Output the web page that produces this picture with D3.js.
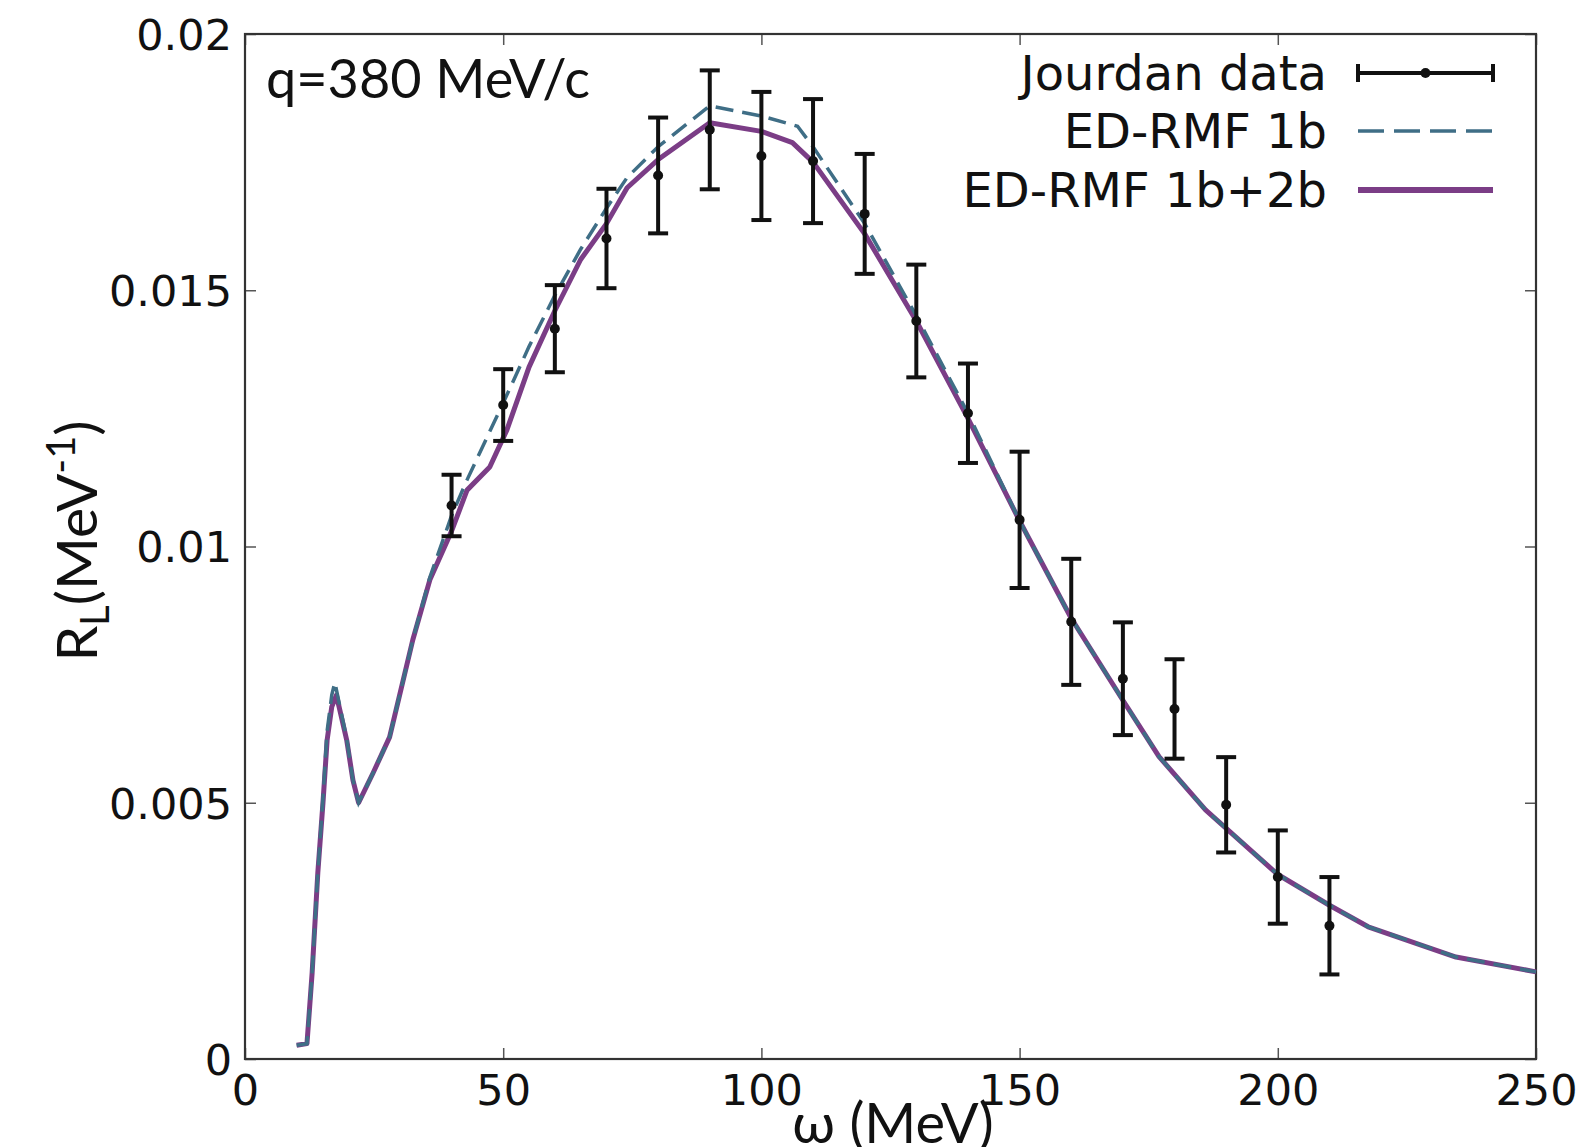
<!DOCTYPE html>
<html>
<head>
<meta charset="utf-8">
<script src="https://cdn.jsdelivr.net/npm/d3@7"></script>
<style>
  body { margin: 0; background: #fff; }
  svg { display: block; }
</style>
</head>
<body>
<svg id="chart" width="1595" height="1147"></svg>
<script>
// Jourdan data (omega in MeV, R_L in MeV^-1, error)
const dataOmega = [40, 50, 60, 70, 80, 90, 100, 110, 120, 130, 140, 150, 160, 170, 180, 190, 200, 210];
const dataRL = [0.0108, 0.01276, 0.01425, 0.01601, 0.01724, 0.01813, 0.01762, 0.01752, 0.01649, 0.0144, 0.0126, 0.01052, 0.00853, 0.00742, 0.00683, 0.00496, 0.00355, 0.0026];
const dataErr = [0.0006, 0.0007, 0.00085, 0.00097, 0.00113, 0.00116, 0.00125, 0.00121, 0.00117, 0.0011, 0.00097, 0.00133, 0.00123, 0.0011, 0.00097, 0.00093, 0.00091, 0.00095];

// ED-RMF 1b+2b
const omega2b = [10, 12, 13, 14.1, 15.1, 15.9, 16.8, 17.7, 19.7, 20.9, 22, 24.8, 28, 32.5, 35.8, 40, 43, 47.4, 50.7, 55, 60, 65, 70, 74, 80, 90, 100, 106, 110, 120, 130, 140, 150, 160, 170, 177, 186, 190, 200, 210, 217.5, 234.5, 250];
const rl2b = [0.00027, 0.0003, 0.00168, 0.00363, 0.005, 0.00622, 0.00687, 0.0071, 0.00622, 0.00544, 0.005, 0.00558, 0.00628, 0.00818, 0.00935, 0.0103, 0.0111, 0.01155, 0.01227, 0.0135, 0.0146, 0.0156, 0.0163, 0.0170, 0.01755, 0.01827, 0.0181, 0.01788, 0.0175, 0.0161, 0.0144, 0.0125, 0.0105, 0.0086, 0.0070, 0.0059, 0.00486, 0.0045, 0.0036, 0.003, 0.00258, 0.00199, 0.0017];

// ED-RMF 1b
const omega1b = [10, 12, 13, 14.1, 15.1, 15.9, 16.8, 17.4, 19.7, 20.9, 22, 24.8, 28, 32.5, 35.8, 40, 43, 50, 55, 60, 65, 70, 74, 80, 90, 100, 107, 110, 120, 130, 140, 150, 160, 170, 177, 186, 190, 200, 210, 217.5, 234.5, 250];
const rl1b = [0.00027, 0.0003, 0.00168, 0.00363, 0.0051, 0.0064, 0.0071, 0.00735, 0.00625, 0.00544, 0.005, 0.00558, 0.00628, 0.00818, 0.0094, 0.0106, 0.0113, 0.0128, 0.0139, 0.0149, 0.0158, 0.0166, 0.0172, 0.0178, 0.0186, 0.0184, 0.0182, 0.0178, 0.0163, 0.0145, 0.0126, 0.0105, 0.0086, 0.0070, 0.0059, 0.00486, 0.0045, 0.0036, 0.003, 0.00258, 0.00199, 0.0017];

const xTicks = [0, 50, 100, 150, 200, 250];
const yTicks = [0, 0.005, 0.01, 0.015, 0.02];
const yTickLabels = ["0", "0.005", "0.01", "0.015", "0.02"];

const legendNames = ["Jourdan data", "ED-RMF 1b", "ED-RMF 1b+2b"];

const purple = "#7b3d86";
const teal = "#3f6e86";

const margin = { top: 34, right: 59, bottom: 88, left: 245 };
const svg = d3.select("#chart");
const width = +svg.attr("width") - margin.left - margin.right;
const height = +svg.attr("height") - margin.top - margin.bottom;

const x = d3.scaleLinear().domain([0, 250]).range([0, width]);
const y = d3.scaleLinear().domain([0, 0.02]).range([height, 0]);

const g = svg.append("g").attr("transform", `translate(${margin.left},${margin.top})`);

const tickFont = "'DejaVu Sans', sans-serif";

// axes with inward ticks on all four sides
const xAxis = g.append("g")
  .attr("transform", `translate(0,${height})`)
  .call(d3.axisBottom(x).tickValues(xTicks).tickSizeInner(-11).tickSizeOuter(0).tickPadding(15));
const xTop = g.append("g")
  .call(d3.axisTop(x).tickValues(xTicks).tickSizeInner(-11).tickSizeOuter(0).tickFormat(""));
const yAxis = g.append("g")
  .call(d3.axisLeft(y).tickValues(yTicks).tickSizeInner(-11).tickSizeOuter(0).tickPadding(13)
    .tickFormat((d, i) => yTickLabels[i]));
const yRight = g.append("g")
  .attr("transform", `translate(${width},0)`)
  .call(d3.axisRight(y).tickValues(yTicks).tickSizeInner(-11).tickSizeOuter(0).tickFormat(""));

[xAxis, xTop, yAxis, yRight].forEach(a => {
  a.select(".domain").remove();
  a.selectAll(".tick line").attr("stroke", "#555").attr("stroke-width", 1.5);
  a.selectAll("text").attr("fill", "#111").style("font-family", tickFont).style("font-size", "43px");
});
yAxis.selectAll("text").attr("dy", "0.36em");

// frame
g.append("rect")
  .attr("width", width).attr("height", height)
  .attr("fill", "none").attr("stroke", "#333").attr("stroke-width", 2.2);

// curves
const line = d3.line().x(d => x(d[0])).y(d => y(d[1]));

g.append("path")
  .datum(d3.zip(omega2b, rl2b))
  .attr("d", line)
  .attr("fill", "none")
  .attr("stroke", purple)
  .attr("stroke-width", 5)
  .attr("stroke-linejoin", "round");

g.append("path")
  .datum(d3.zip(omega1b, rl1b))
  .attr("d", line)
  .attr("fill", "none")
  .attr("stroke", teal)
  .attr("stroke-width", 3.5)
  .attr("stroke-dasharray", "18,9");

// error bars
const pts = dataOmega.map((w, i) => ({ w, v: dataRL[i], e: dataErr[i] }));
const eb = g.append("g").attr("stroke", "#111").attr("stroke-width", 4);
eb.selectAll(".bar").data(pts).enter().append("line")
  .attr("x1", d => x(d.w)).attr("x2", d => x(d.w))
  .attr("y1", d => y(d.v - d.e)).attr("y2", d => y(d.v + d.e));
eb.selectAll(".capTop").data(pts).enter().append("line")
  .attr("x1", d => x(d.w) - 10).attr("x2", d => x(d.w) + 10)
  .attr("y1", d => y(d.v + d.e)).attr("y2", d => y(d.v + d.e));
eb.selectAll(".capBot").data(pts).enter().append("line")
  .attr("x1", d => x(d.w) - 10).attr("x2", d => x(d.w) + 10)
  .attr("y1", d => y(d.v - d.e)).attr("y2", d => y(d.v - d.e));
g.append("g").selectAll("circle").data(pts).enter().append("circle")
  .attr("cx", d => x(d.w)).attr("cy", d => y(d.v)).attr("r", 5).attr("fill", "#111");

// legend
const legX0 = 1358 - margin.left, legX1 = 1493 - margin.left;
const legY = [73, 131, 190].map(v => v - margin.top);
const leg = g.append("g");
legendNames.forEach((name, i) => {
  leg.append("text")
    .attr("x", legX0 - 31).attr("y", legY[i])
    .attr("dy", "0.36em")
    .attr("text-anchor", "end")
    .style("font-family", tickFont).style("font-size", "48px").attr("fill", "#111")
    .text(name);
});
leg.append("line").attr("x1", legX0).attr("x2", legX1).attr("y1", legY[0]).attr("y2", legY[0])
  .attr("stroke", "#111").attr("stroke-width", 4);
[legX0, legX1].forEach(cx => leg.append("line")
  .attr("x1", cx).attr("x2", cx).attr("y1", legY[0] - 9).attr("y2", legY[0] + 9)
  .attr("stroke", "#111").attr("stroke-width", 4));
leg.append("circle").attr("cx", (legX0 + legX1) / 2).attr("cy", legY[0]).attr("r", 5).attr("fill", "#111");
leg.append("line").attr("x1", legX0).attr("x2", legX1).attr("y1", legY[1]).attr("y2", legY[1])
  .attr("stroke", teal).attr("stroke-width", 3.5).attr("stroke-dasharray", "26,10");
leg.append("line").attr("x1", legX0).attr("x2", legX1).attr("y1", legY[2]).attr("y2", legY[2])
  .attr("stroke", purple).attr("stroke-width", 6);

// annotation and axis titles
const labelFont = "Lato, 'Open Sans', sans-serif";
svg.append("text")
  .attr("x", 266).attr("y", 98)
  .style("font-family", labelFont).style("font-size", "54px").attr("fill", "#111")
  .text("q=380 MeV/c");

svg.append("text")
  .attr("x", 893).attr("y", 1143)
  .attr("text-anchor", "middle")
  .style("font-family", labelFont).style("font-size", "56px").attr("fill", "#111")
  .text("ω (MeV)");

const yl = svg.append("text")
  .attr("transform", `translate(97,541) rotate(-90)`)
  .attr("text-anchor", "middle")
  .style("font-family", labelFont).style("font-size", "57px").attr("fill", "#111");
yl.append("tspan").text("R");
yl.append("tspan").attr("dy", 12).style("font-size", "40px").text("L");
yl.append("tspan").attr("dy", -12).text("(MeV");
yl.append("tspan").attr("dy", -22).style("font-size", "40px").text("-1");
yl.append("tspan").attr("dy", 22).text(")");
</script>
</body>
</html>
